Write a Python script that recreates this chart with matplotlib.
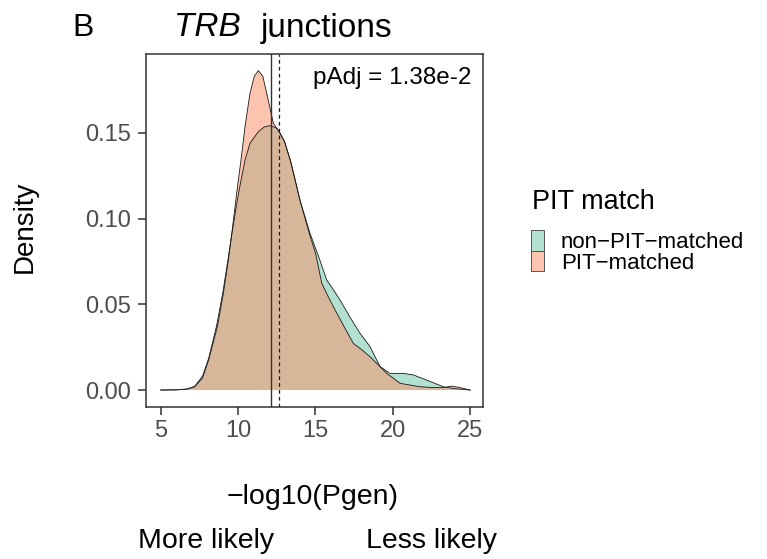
import numpy as np
import matplotlib
matplotlib.use('Agg')
import matplotlib.pyplot as plt

plt.rcParams['font.family'] = ['Liberation Sans', 'DejaVu Sans']

# density curves (x = -log10(Pgen))
non_pit_x = [5.0, 6.0, 6.7, 7.2, 7.7, 8.1, 8.6, 9.0, 9.35, 9.65, 9.9, 10.1, 10.45, 10.77,
             11.31, 11.7, 12.07, 12.5, 12.7, 13.0, 13.4, 14.0, 14.65, 15.2, 15.73, 16.2,
             16.59, 17.2, 17.88, 18.53, 19.18, 19.82, 20.68, 21.33, 22.19, 23.27, 24.0, 25.0]
non_pit_y = [0.0, 0.0001, 0.0006, 0.0022, 0.008, 0.0185, 0.037, 0.056, 0.076, 0.094, 0.108,
             0.118, 0.1342, 0.1439, 0.1507, 0.1535, 0.1542, 0.1527, 0.150, 0.145, 0.1333,
             0.1108, 0.0914, 0.078, 0.0642, 0.058, 0.0525, 0.043, 0.0331, 0.0253, 0.0136,
             0.0097, 0.0097, 0.0088, 0.0058, 0.0019, 0.0008, 0.0]

pit_x = [5.0, 6.0, 6.7, 7.2, 7.7, 8.1, 8.66, 9.05, 9.37, 9.65, 9.91, 10.19, 10.45, 10.77,
         11.05, 11.31, 11.6, 11.85, 12.28, 12.7, 13.0, 13.4, 14.0, 14.6, 15.0, 15.41, 15.85,
         16.27, 16.85, 17.45, 18.0, 18.53, 19.18, 19.61, 20.47, 21.76, 22.5, 23.27, 23.81,
         24.35, 25.0]
pit_y = [0.0, 0.0001, 0.0005, 0.0019, 0.007, 0.0175, 0.0369, 0.0564, 0.0758, 0.0953, 0.1148,
         0.1342, 0.1536, 0.1731, 0.183, 0.1863, 0.183, 0.1731, 0.1556, 0.150, 0.145, 0.1333,
         0.1108, 0.0914, 0.080, 0.0623, 0.054, 0.0467, 0.037, 0.0272, 0.0235, 0.0194,
         0.0136, 0.0097, 0.0039, 0.0019, 0.0015, 0.0014, 0.0023, 0.0014, 0.0]

median_non_pit = 12.13
median_pit = 12.63

W, H = 767, 559
fig = plt.figure(figsize=(W / 100, H / 100), dpi=100)

def fx(px):
    return px / W

def fy(py):
    return 1 - py / H

ax = fig.add_axes([fx(146), fy(407), (483 - 146) / W, (407 - 54) / H])

ax.fill_between(non_pit_x, non_pit_y, color='#66C2A5', alpha=0.5, edgecolor='none',
                label='non\u2212PIT\u2212matched')
ax.plot(non_pit_x, non_pit_y, color='#1a1a1a', lw=0.6)
ax.fill_between(pit_x, pit_y, color='#FC8D62', alpha=0.5, edgecolor='none',
                label='PIT\u2212matched')
ax.plot(pit_x, pit_y, color='#1a1a1a', lw=0.6)

ax.axvline(median_non_pit, color='#333333', lw=1.0)
ax.axvline(median_pit, color='#1a1a1a', lw=0.9, ls=(0, (3, 2.5)))

ax.set_xlim(4.05, 25.83)
ax.set_ylim(-0.0099, 0.196)
ax.set_xticks([5, 10, 15, 20, 25])
ax.set_yticks([0.0, 0.05, 0.10, 0.15])
ax.set_yticklabels(['0.00', '0.05', '0.10', '0.15'])
ax.tick_params(colors='#333333', labelcolor='#4D4D4D', labelsize=17, length=5.5, width=1.1)
ax.tick_params(axis='y', pad=5)
ax.tick_params(axis='x', pad=4)
for s in ax.spines.values():
    s.set_color('#333333')
    s.set_linewidth(1.1)

ax.text(0.965, 0.932, 'pAdj = 1.38e-2', transform=ax.transAxes, ha='right', va='center',
        fontsize=17.5)

fig.text(fx(25), fy(227), 'Density', fontsize=20, rotation=90, ha='center', va='center')

fig.text(fx(83), fy(28), 'B', fontsize=23, ha='center', va='center')
fig.text(fx(207.5), fy(28), 'TRB', fontsize=24, fontstyle='italic', ha='center', va='center')
fig.text(fx(327), fy(28), 'junctions', fontsize=24, ha='center', va='center')

fig.text(fx(313), fy(497), '\u2212log10(Pgen)', fontsize=20.5, ha='center', va='center')
fig.text(fx(206), fy(541), 'More likely', fontsize=20.5, ha='center', va='center')
fig.text(fx(432), fy(541), 'Less likely', fontsize=20.5, ha='center', va='center')

# legend: title as its own text, keys via the legend
fig.text(fx(532), fy(202), 'PIT match', fontsize=19.5, ha='left', va='center')
handles, labels = ax.get_legend_handles_labels()
leg = fig.legend(handles, labels, loc='upper left',
                 bbox_to_anchor=(fx(531), fy(230)), frameon=False, fontsize=16,
                 handlelength=0.6, handleheight=1.05,
                 labelspacing=-0.1, handletextpad=0.75, borderaxespad=0, borderpad=0)
for h in leg.legend_handles:
    h.set_edgecolor('#555555')
    h.set_linewidth(0.7)

fig.savefig('out.png', dpi=100)
